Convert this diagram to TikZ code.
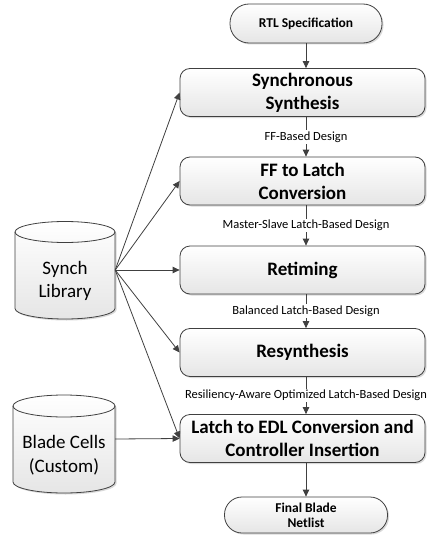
\documentclass[tikz,border=0pt]{standalone}
\usepackage{fontspec}
\setmainfont{Carlito}
\usetikzlibrary{arrows.meta,shadows}
\definecolor{edge}{HTML}{404040}

\begin{document}
\begin{tikzpicture}[x=1pt,y=1pt,
  softshadow/.style={drop shadow={shadow xshift=1.5pt,shadow yshift=-1.5pt,opacity=0.25,fill=black!60}},
  paper/.style={top color=white, middle color=black!3, bottom color=black!10},
  stage/.style={draw=edge, line width=0.8pt, rounded corners=10pt,
    paper, softshadow,
    minimum width=245pt, minimum height=48pt, inner sep=2pt, align=center,
    font=\fontsize{19}{23}\selectfont\bfseries},
  terminal/.style={draw=edge, line width=0.8pt,
    paper, softshadow,
    inner sep=2pt, align=center, font=\fontsize{13.5}{15}\selectfont\bfseries},
  drum/.style={draw=edge, line width=0.8pt, paper},
  drumtext/.style={align=center, font=\fontsize{19}{23.5}\selectfont},
  flow/.style={draw=edge, line width=0.8pt, -{Triangle[length=7pt,width=6.5pt]}},
  tag/.style={fill=white, inner sep=1.5pt, font=\fontsize{12.5}{14}\selectfont},
]
\useasboundingbox (0,0) rectangle (427,-535);

% cylinders (libraries)
\draw[drum, softshadow] (15,-232) -- (15,-308.5)
  arc[start angle=180,end angle=360,x radius=50,y radius=10.5] -- (115,-232)
  arc[start angle=0,end angle=180,x radius=50,y radius=10.5] -- cycle;
\draw[edge, line width=0.8pt] (15,-232) arc[start angle=180,end angle=360,x radius=50,y radius=10.5];
\node[drumtext, minimum width=100pt, minimum height=76pt] (lib) at (65,-270) {};
\node[drumtext] at (65,-281) {Synch\\Library};

\draw[drum, softshadow] (13,-406) -- (13,-482)
  arc[start angle=180,end angle=360,x radius=51,y radius=11] -- (115,-406)
  arc[start angle=0,end angle=180,x radius=51,y radius=11] -- cycle;
\draw[edge, line width=0.8pt] (13,-406) arc[start angle=180,end angle=360,x radius=51,y radius=11];
\node[drumtext, minimum width=102pt, minimum height=66pt] (cells) at (64,-439) {};
\node[drumtext] at (64,-455) {Blade Cells\\(Custom)};

% flow stages
\node[terminal, rounded corners=19pt, minimum width=152pt, minimum height=39pt] (rtl) at (306,-23.5) {RTL Specification};
\node[stage] (sync) at (302.5,-92.5) {Synchronous\\Synthesis};
\node[stage] (ff) at (302.5,-181) {FF to Latch\\Conversion};
\node[stage] (ret) at (302.5,-270) {Retiming};
\node[stage] (res) at (302.5,-352.5) {Resynthesis};
\node[stage] (edl) at (302.5,-438.5) {Latch to EDL Conversion and\\Controller Insertion};
\node[terminal, rounded corners=17.5pt, minimum width=163pt, minimum height=36pt] (out) at (306,-515) {Final Blade\\Netlist};

% vertical flow
\draw[flow] (rtl.south) -- (rtl.south |- sync.north);
\draw[flow] (rtl.south |- sync.south) -- node[tag] {FF-Based Design} (rtl.south |- ff.north);
\draw[flow] (rtl.south |- ff.south) -- node[tag] {Master-Slave Latch-Based Design} (rtl.south |- ret.north);
\draw[flow] (rtl.south |- ret.south) -- node[tag] {Balanced Latch-Based Design} (rtl.south |- res.north);
\draw[flow] (rtl.south |- res.south) -- node[tag] {Resiliency-Aware Optimized Latch-Based Design} (rtl.south |- edl.north);
\draw[flow] (rtl.south |- edl.south) -- (out.north);

% library inputs
\foreach \t in {sync,ff,ret,res,edl}
  \draw[flow] (lib.east) -- (\t.west);
\draw[flow] (cells.east) -- (edl.west);
\end{tikzpicture}
\end{document}
